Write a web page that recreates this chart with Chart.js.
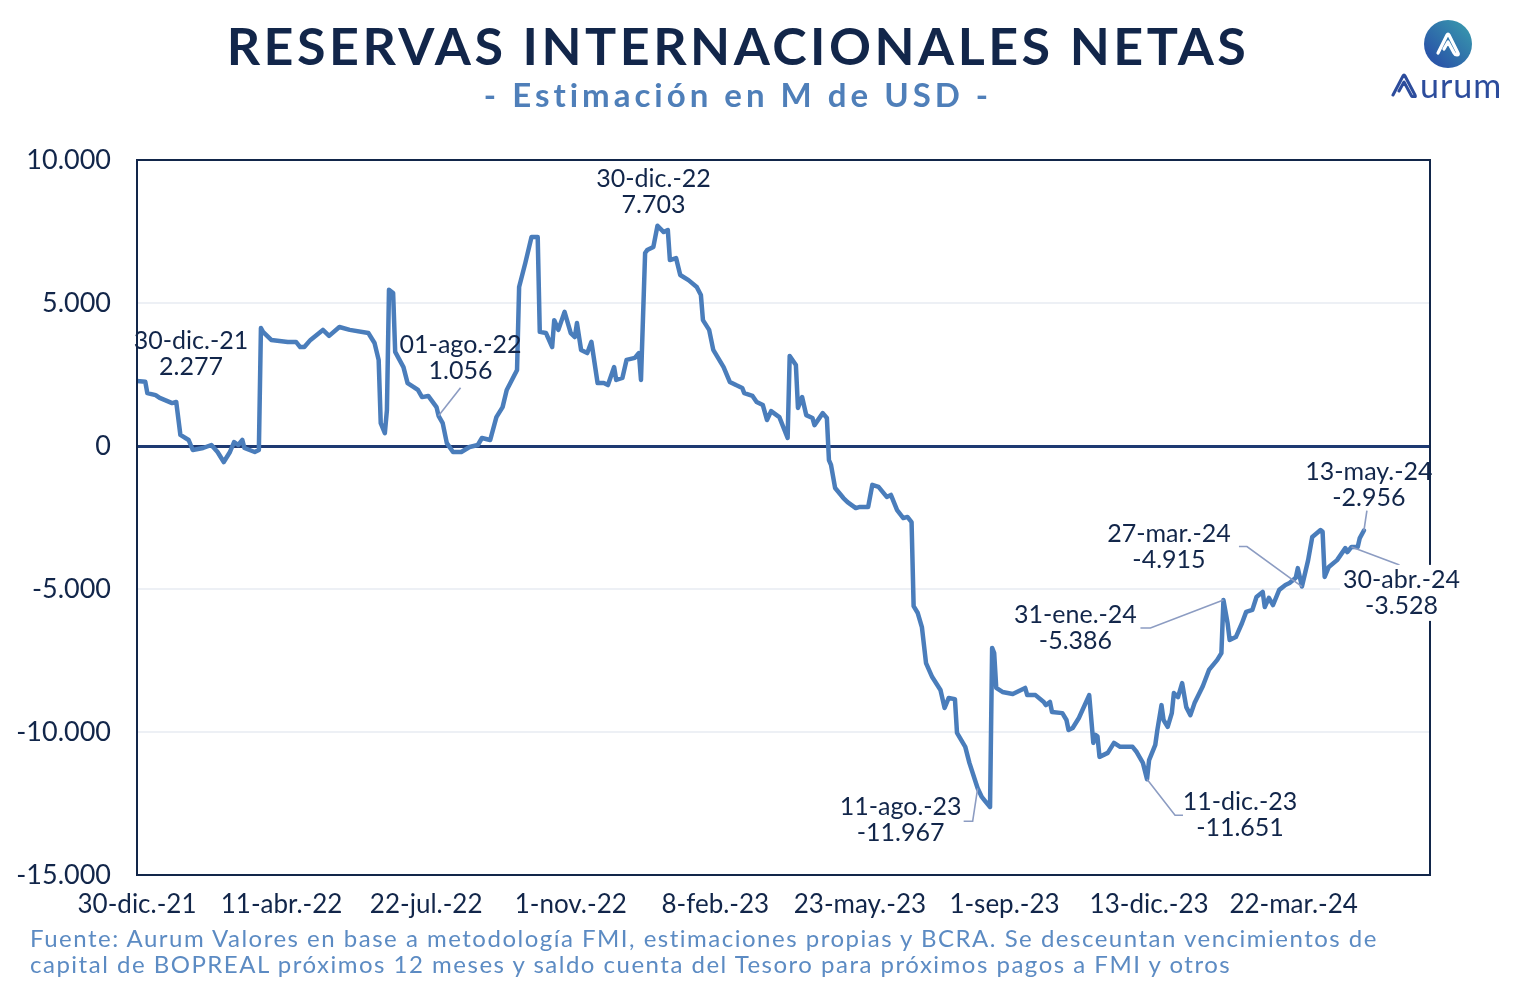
<!DOCTYPE html>
<html lang="es">
  <head>
    <meta charset="UTF-8" />
    <title>Reservas Internacionales Netas</title>
    <script src="https://cdn.jsdelivr.net/npm/chart.js"></script>
    <style>
      * {
        margin: 0;
        padding: 0;
        box-sizing: border-box;
      }
      body {
        background: #fff;
        font-family: Lato, "Noto Sans", sans-serif;
        width: 1525px;
        height: 996px;
        position: relative;
        overflow: hidden;
      }
      #chart {
        position: absolute;
        left: 0;
        top: 0;
      }
      .titulo {
        position: absolute;
        left: 0;
        width: 1476px;
        top: 14px;
        text-align: center;
        font-size: 52px;
        font-weight: 700;
        letter-spacing: 3.5px;
        color: #12264a;
      }
      .subtitulo {
        position: absolute;
        left: 0;
        width: 1476px;
        top: 74px;
        text-align: center;
        font-size: 33px;
        font-weight: 700;
        letter-spacing: 4px;
        color: #4f7fb9;
      }
      .fuente {
        position: absolute;
        left: 30px;
        top: 925px;
        font-size: 24px;
        letter-spacing: 1.5px;
        line-height: 26px;
        color: #5c8bc3;
        white-space: nowrap;
      }
      .logo {
        position: absolute;
        left: 1386px;
        top: 18px;
        width: 130px;
        height: 80px;
      }
      .logo .circulo {
        position: absolute;
        left: 38px;
        top: 2px;
        width: 48px;
        height: 48px;
        border-radius: 50%;
        background: linear-gradient(45deg, #2a57a8 20%, #3a9fae 100%);
      }
      .logo .marca {
        position: absolute;
        left: 4px;
        top: 46px;
        font-size: 34px;
        color: #2c4c9c;
        letter-spacing: 1px;
        display: flex;
        align-items: center;
      }
    </style>
  </head>
  <body>
    <canvas id="chart" width="1525" height="996"></canvas>
    <div class="titulo">RESERVAS INTERNACIONALES NETAS</div>
    <div class="subtitulo">- Estimación en M de USD -</div>
    <div class="logo">
      <div class="circulo">
        <svg width="48" height="48" viewBox="0 0 48 48">
          <path d="M14 33 L23 15 Q24 13 25 15 L34 33 Q35 35 33 35 Q31 35 30 33 L24 22 L20 29"
            fill="none" stroke="#fff" stroke-width="3.2" stroke-linecap="round" stroke-linejoin="round" />
        </svg>
      </div>
      <div class="marca">
        <svg width="30" height="26" viewBox="0 0 30 26">
          <path d="M3 23 L13 4 Q14 2 15 4 L25 23 Q26 25 24 25 Q22 25 21 23 L14 10 L9 19"
            fill="none" stroke="#2c4c9c" stroke-width="3" stroke-linecap="round" stroke-linejoin="round" />
        </svg>
        <span>urum</span>
      </div>
    </div>
    <div class="fuente">
      Fuente: Aurum Valores en base a metodología FMI, estimaciones propias y BCRA. Se desceuntan vencimientos de<br />
      capital de BOPREAL próximos 12 meses y saldo cuenta del Tesoro para próximos pagos a FMI y otros
    </div>

    <script>
      // dias habiles desde 30-dic-21 y reservas netas estimadas (M USD)
      const dia = [
        0, 4, 5, 9, 11, 17, 19, 21, 25, 27, 32, 36, 39, 42, 45, 47, 49, 51, 52, 57, 59,
        60, 61, 65, 73, 77, 79, 81, 84, 90, 93, 98, 103, 112, 115, 117, 118, 120, 121, 122,
        124, 125, 129, 131, 134, 136, 138, 141, 145, 146, 148, 150, 153, 157, 161, 165, 167,
        171, 174, 177, 179, 184, 185, 188, 191, 194, 195, 198, 201, 202, 204, 207, 210, 212,
        213, 215, 218, 220, 223, 226, 228, 231, 232, 235, 237, 241, 243, 244, 246, 247, 250,
        252, 255, 257, 258, 261, 263, 267, 271, 273, 274, 277, 279, 284, 287, 290, 293, 294,
        298, 300, 303, 305, 307, 311, 315, 316, 319, 320, 322, 324, 327, 328, 332, 334, 335,
        336, 338, 342, 344, 348, 350, 354, 356, 359, 363, 365, 368, 371, 373, 375, 376, 378,
        380, 382, 385, 389, 391, 393, 396, 397, 401, 403, 407, 409, 411, 413, 414, 415, 416,
        419, 424, 426, 430, 431, 435, 439, 440, 442, 443, 448, 450, 451, 453, 456, 461, 463,
        464, 465, 466, 470, 473, 476, 482, 484, 487, 489, 490, 493, 494, 496, 497, 499, 501,
        502, 504, 506, 508, 510, 512, 516, 519, 523, 525, 526, 528, 529, 532, 535, 537, 540,
        542, 545, 546, 548, 550, 553, 556, 558, 561, 562, 564, 567, 569, 573, 574, 575, 577,
        581, 585, 586, 588, 591, 592, 594
      ];
      const reservas = [
        2277, 2250, 1850, 1780, 1680, 1500, 1540, 390, 210, -140, -70, 35, -210, -560, -210,
        140, 35, 210, -70, -210, -140,
        4125, 3990, 3710, 3640, 3640, 3460, 3460, 3710, 4060, 3850, 4160, 4060, 3950, 3600,
        3010, 800, 450, 1260, 5460,
        5350, 3290, 2760, 2200, 2060, 1960, 1710, 1750, 1360, 1056, 800, 100, -210, -210, -35,
        35, 280,
        210, 1010, 1360, 1960, 2660, 5560, 6400, 7310, 7310, 3990, 3950, 3460, 4400, 4060,
        4690, 3950, 3810,
        4300, 3360, 3250, 3640, 2200, 2200, 2130, 2760, 2310, 2380, 3010, 3080, 3250, 2310,
        6750, 6850, 6960,
        7703, 7480, 7550, 6500, 6570, 5980, 5800, 5560, 5280, 4400, 4060, 3360, 2760, 2240,
        2130, 2030, 1850,
        1750, 1540, 1430, 910, 1220, 1010, 280, 3150, 2830, 1330, 1710, 1080, 980, 730, 1150,
        980, -490,
        -660, -1470, -1820, -1960, -2170, -2130, -2130, -1360, -1430, -1780, -1710, -2240,
        -2520, -2480, -2660, -5600, -5840,
        -6330, -7590, -8080, -8530, -9160, -8810, -8850, -10030, -10520, -11080, -11967,
        -12270, -12450, -12620, -7060, -7240, -8460,
        -8600, -8670, -8600, -8460, -8710, -8710, -8950, -9060, -8950, -9300, -9340, -9580,
        -9930, -9860, -9510, -8710, -10380,
        -10100, -10150, -10870, -10730, -10380, -10520, -10520, -10700, -11080, -11651,
        -10980, -10450, -9930, -9060, -9580, -9820, -9340,
        -8640, -8780, -8290, -9130, -9410, -8990, -8400, -7830, -7480, -7240, -5386, -6190,
        -6780, -6680, -6190, -5800, -5730,
        -5280, -5100, -5630, -5310, -5560, -5030, -4860, -4790, -4610, -4270, -4915, -3990,
        -3180, -2940, -3000, -4580, -4230,
        -3990, -3570, -3710, -3528, -3530, -3220, -2956
      ];

      const xTickDias = [0, 70, 140, 210, 280, 350, 420, 490, 560];
      const xTickLabels = [
        "30-dic.-21", "11-abr.-22", "22-jul.-22", "1-nov.-22", "8-feb.-23",
        "23-may.-23", "1-sep.-23", "13-dic.-23", "22-mar.-24"
      ];

      const notaDias = [0, 146, 252, 407, 489, 526, 564, 588, 594];
      const notaFechas = [
        "30-dic.-21", "01-ago.-22", "30-dic.-22", "11-ago.-23", "11-dic.-23",
        "31-ene.-24", "27-mar.-24", "30-abr.-24", "13-may.-24"
      ];

      const NAVY = "#12264a";
      const FONT = "Lato, 'Noto Sans', sans-serif";

      function miles(v) {
        const s = Math.abs(Math.round(v)).toString().replace(/\B(?=(\d{3})+(?!\d))/g, ".");
        return (v < 0 ? "-" : "") + s;
      }

      // posicion de cada etiqueta respecto del punto (px) y tramo de la linea guia
      const notaLayout = [
        { dx: 54, dy: -40 },
        { dx: 22, dy: -71, guia: [[22, -28]] },
        { dx: -4, dy: -47 },
        { dx: -77, dy: 19, guia: [[-5, 33], [-14, 33]] },
        { dx: 93, dy: 23, guia: [[28, 36], [36, 36]] },
        { dx: -148, dy: 15, guia: [[-73, 28], [-83, 28]] },
        { dx: -133, dy: -53, guia: [[-55, -40], [-63, -40]] },
        { dx: 50, dy: 33, guia: [[48, 18]], fondo: true },
        { dx: 5, dy: -59, guia: [[3, -20]] }
      ];

      const marcoPlugin = {
        id: "marco",
        afterDatasetsDraw(chart) {
          const a = chart.chartArea;
          const ctx = chart.ctx;
          ctx.save();
          ctx.strokeStyle = NAVY;
          ctx.lineWidth = 2;
          ctx.strokeRect(a.left, a.top, a.right - a.left, a.bottom - a.top);
          ctx.restore();
        }
      };

      const notasPlugin = {
        id: "notas",
        afterDraw(chart) {
          const ctx = chart.ctx;
          const xs = chart.scales.x;
          const ys = chart.scales.y;
          ctx.save();
          ctx.font = "25px " + FONT;
          ctx.textAlign = "center";
          ctx.textBaseline = "middle";
          notaDias.forEach((d, i) => {
            const v = reservas[dia.indexOf(d)];
            const px = xs.getPixelForValue(d);
            const py = ys.getPixelForValue(v);
            const L = notaLayout[i];
            if (L.guia) {
              ctx.strokeStyle = "#8c9cc2";
              ctx.lineWidth = 1.6;
              ctx.beginPath();
              ctx.moveTo(px, py);
              L.guia.forEach((p) => ctx.lineTo(px + p[0], py + p[1]));
              ctx.stroke();
            }
            const cx = px + L.dx;
            const cy = py + L.dy;
            const t1 = notaFechas[i];
            const t2 = miles(v);
            if (L.fondo) {
              const w = Math.max(ctx.measureText(t1).width, ctx.measureText(t2).width) + 6;
              ctx.fillStyle = "#fff";
              ctx.fillRect(cx - w / 2, cy - 15, w, 56);
            }
            ctx.fillStyle = NAVY;
            ctx.fillText(t1, cx, cy);
            ctx.fillText(t2, cx, cy + 26);
          });
          ctx.restore();
        }
      };

      const ctx = document.getElementById("chart").getContext("2d");
      new Chart(ctx, {
        type: "line",
        data: {
          datasets: [
            {
              label: "Reservas netas",
              data: dia.map((d, i) => ({ x: d, y: reservas[i] })),
              borderColor: "#4a7dbb",
              borderWidth: 4.5,
              pointRadius: 0,
              tension: 0,
              borderJoinStyle: "round",
              borderCapStyle: "round"
            }
          ]
        },
        options: {
          responsive: false,
          animation: false,
          layout: { padding: { top: 160, right: 95, left: 0, bottom: 0 } },
          plugins: {
            legend: { display: false },
            tooltip: { enabled: false }
          },
          scales: {
            x: {
              type: "linear",
              min: 0,
              max: 626,
              afterBuildTicks: (s) => {
                s.ticks = xTickDias.map((v) => ({ value: v }));
              },
              afterFit: (s) => {
                s.height = 121;
              },
              ticks: {
                autoSkip: false,
                maxRotation: 0,
                padding: 14,
                color: NAVY,
                font: { family: FONT, size: 26 },
                callback: (v) => xTickLabels[xTickDias.indexOf(v)]
              },
              grid: { display: false, drawTicks: false },
              border: { display: false }
            },
            y: {
              min: -15000,
              max: 10000,
              afterFit: (s) => {
                s.width = 137;
              },
              ticks: {
                stepSize: 5000,
                padding: 26,
                color: NAVY,
                font: { family: FONT, size: 27 },
                callback: (v) => miles(v)
              },
              grid: {
                drawTicks: false,
                color: (c) => (c.tick && c.tick.value === 0 ? "#1e3a72" : "#edf0f5"),
                lineWidth: (c) => (c.tick && c.tick.value === 0 ? 3 : 2)
              },
              border: { display: false }
            }
          }
        },
        plugins: [marcoPlugin, notasPlugin]
      });
    </script>
  </body>
</html>
